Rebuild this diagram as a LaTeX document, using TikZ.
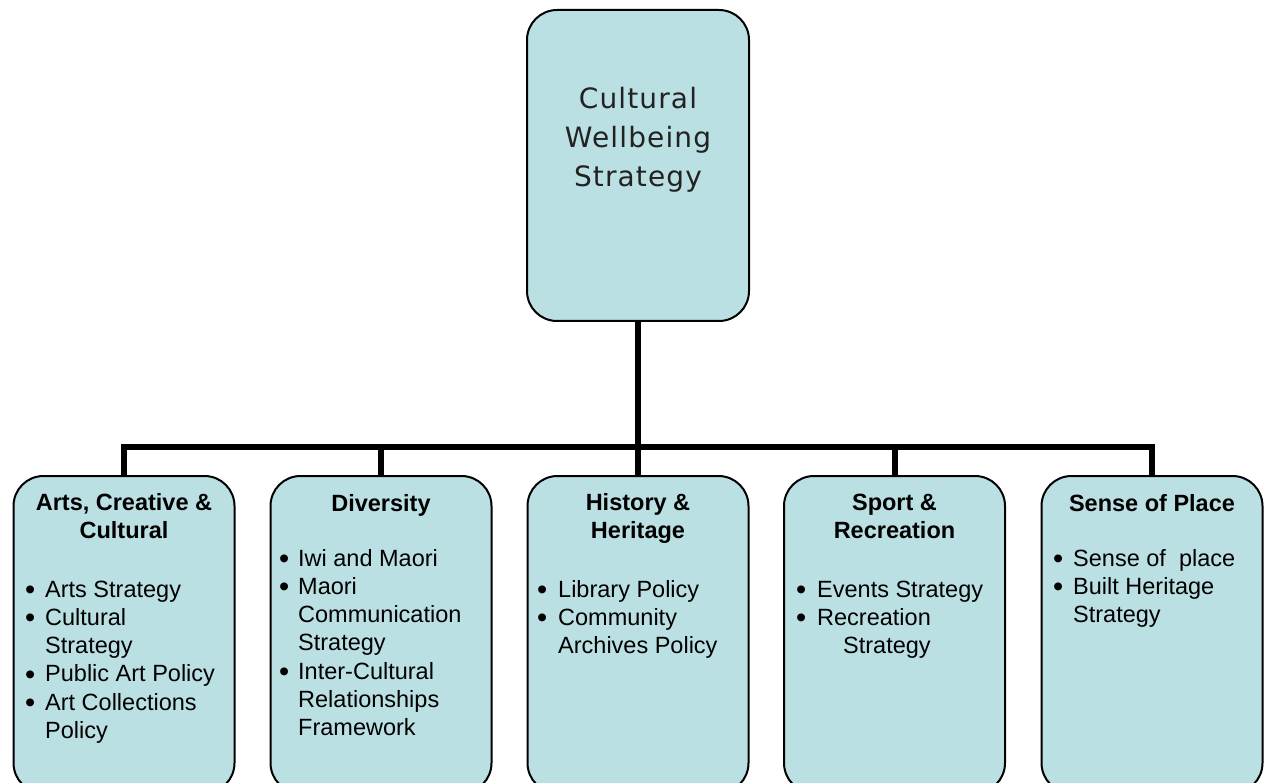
\documentclass[tikz,border=0pt]{standalone}
\usepackage{fontspec}
\setmainfont{Liberation Sans}
\newfontfamily\titlefont[LetterSpace=4]{DejaVu Sans}
\definecolor{boxfill}{HTML}{BBE0E3}
\definecolor{titleink}{HTML}{222222}
% bullet hung to the left of the item text, #1 = gap between dot and text
\newcommand\itm[1][10pt]{\llap{\raisebox{-2.5pt}{\fontsize{29}{29}\selectfont\textbullet}\hspace{#1}}}
\begin{document}
\begin{tikzpicture}[x=1pt,y=-1pt,
  card/.style={draw=black, line width=2pt, fill=boxfill, rounded corners=30pt,
    minimum width=221pt, inner sep=0pt, outer sep=0pt},
  leaf/.style={card, minimum height=317pt},
  bus/.style={line width=6pt, line join=miter, line cap=butt},
  head/.style={align=center, inner sep=0pt, anchor=base, font=\fontsize{23.5}{27.5}\selectfont\bfseries},
  items/.style={align=left, inner sep=0pt, anchor=base west, font=\fontsize{23.5}{28.3}\selectfont},
  title/.style={align=center, inner sep=0pt, anchor=base, text=titleink, font=\fontsize{28}{39}\selectfont\titlefont}]
\useasboundingbox (0,0) rectangle (1268,783);

% top-level strategy
\node[card, minimum width=222pt, minimum height=311pt] (top) at (638,165.5) {};
% multi-line nodes: the base anchor sits on the last line
\node[title] (tt) at (638,187) {Cultural\\Wellbeing\\Strategy};

% the five strands
\node[leaf] (b1) at (124,634.5) {};
\node[leaf] (b2) at (381,634.5) {};
\node[leaf] (b3) at (638,634.5) {};
\node[leaf] (b4) at (894.5,634.5) {};
\node[leaf] (b5) at (1152,634.5) {};

% connectors
\coordinate (j) at (638,447);
\draw[bus] (top.south) -- (b3.north);
\draw[bus] (b1.north) |- (j) -| (b5.north);
\draw[bus] (b2.north) -- (b2.north |- j);
\draw[bus] (b4.north) -- (b4.north |- j);

% headings
\node[head] (h1) at (124,538) {Arts, Creative \&\\Cultural};
\node[head] (h2) at (381,511) {Diversity};
\node[head] (h3) at (638,538) {History \&\\Heritage};
\node[head] (h4) at (894.5,538) {Sport \&\\Recreation};
\node[head] (h5) at (1152,511) {Sense of Place};

% item lists
\node[items] (l1) at (45,738.5) {\itm Arts Strategy\\\itm Cultural\\Strategy\\\itm Public Art Policy\\\itm Art Collections\\Policy};
\node[items] (l2) at (298,735.8) {\itm[9pt]Iwi and Maori\\\itm[9pt]Maori\\Communication\\Strategy\\\itm[9pt]Inter-Cultural\\Relationships\\Framework};
\node[items] (l3) at (558,653.6) {\itm[11pt]Library Policy\\\itm[11pt]Community\\Archives Policy};
\node[items] (l4) at (817,653.6) {\itm[11pt]Events Strategy\\\itm[11pt]Recreation\\\hspace*{26pt}Strategy};
\node[items] (l5) at (1073,622.6) {\itm[10pt]Sense of\ \ place\\\itm[10pt]Built Heritage\\Strategy};
\end{tikzpicture}
\end{document}
